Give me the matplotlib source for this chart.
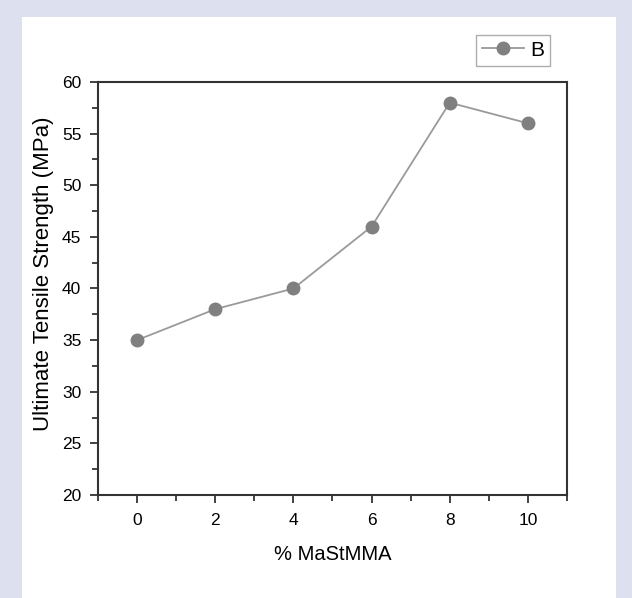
import matplotlib
matplotlib.use("Agg")
import matplotlib.pyplot as plt
from matplotlib.patches import Rectangle
from matplotlib.ticker import MultipleLocator

# data
mastmma_pct = [0, 2, 4, 6, 8, 10]
tensile_mpa = [35, 38, 40, 46, 58, 56]

plt.rcParams["font.family"] = ["Liberation Sans Narrow", "Liberation Sans", "DejaVu Sans"]

fig = plt.figure(figsize=(6.32, 5.98), dpi=100)
fig.patch.set_facecolor("#dde1ef")
fig.patches.append(Rectangle((22 / 632, 0), (616 - 22) / 632, 1 - 17 / 598,
                             transform=fig.transFigure, facecolor="white",
                             edgecolor="none", zorder=-10))

ax = fig.add_axes([98 / 632, 1 - 495 / 598, (567 - 98) / 632, (495 - 82) / 598])
ax.set_zorder(5)
ax.plot(mastmma_pct, tensile_mpa, color="#9a9a9a", linewidth=1.3,
        marker="o", markersize=9, markerfacecolor="#808080",
        markeredgecolor="#808080", label="B")

ax.set_xlim(-1, 11)
ax.set_ylim(20, 60)
ax.xaxis.set_major_locator(MultipleLocator(2))
ax.xaxis.set_minor_locator(MultipleLocator(1))
ax.yaxis.set_major_locator(MultipleLocator(5))
ax.yaxis.set_minor_locator(MultipleLocator(2.5))
ax.tick_params(which="both", direction="out", top=False, right=False,
               color="#222222", labelsize=12.5, width=1.2)
ax.tick_params(which="major", length=6)
ax.tick_params(which="minor", length=4)
ax.tick_params(axis="y", pad=6)
ax.tick_params(axis="x", pad=7)
for s in ax.spines.values():
    s.set_color("#333333")
    s.set_linewidth(1.5)

ax.set_xlabel("% MaStMMA", fontsize=14.5, labelpad=12)
ax.set_ylabel("Ultimate Tensile Strength (MPa)", fontsize=16)
ax.yaxis.set_label_coords(-0.093, 0.535)

leg = ax.legend(loc="lower right", bbox_to_anchor=(550 / 632, 1 - 66 / 598),
                bbox_transform=fig.transFigure, fontsize=15, frameon=True,
                fancybox=False, handlelength=2.0, borderpad=0.3,
                handletextpad=0.3, borderaxespad=0)
leg.get_frame().set_edgecolor("#999999")
leg.get_frame().set_linewidth(1.0)

fig.savefig("out.png", dpi=100, facecolor=fig.get_facecolor())
